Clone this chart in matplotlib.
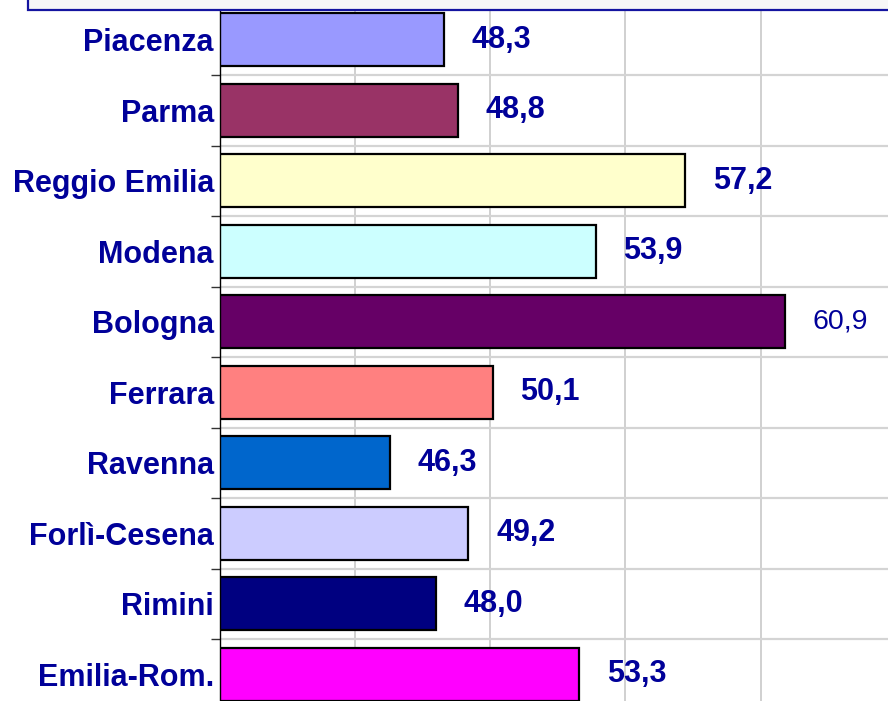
import matplotlib
matplotlib.use("Agg")
import matplotlib.pyplot as plt
from matplotlib.patches import Rectangle
import numpy as np

categories = ["Piacenza", "Parma", "Reggio Emilia", "Modena", "Bologna",
              "Ferrara", "Ravenna", "Forlì-Cesena", "Rimini", "Emilia-Rom."]
values = [48.3, 48.8, 57.2, 53.9, 60.9, 50.1, 46.3, 49.2, 48.0, 53.3]
colors = ["#9999FF", "#993366", "#FFFFCC", "#CCFFFF", "#660066",
          "#FF8080", "#0066CC", "#CCCCFF", "#000080", "#FF00FF"]
bold_labels = [True, True, True, True, False, True, True, True, True, True]

plt.rcParams['font.family'] = ['Liberation Sans', 'DejaVu Sans']
text_color = "#000099"

W, H = 888, 701
fig = plt.figure(figsize=(W / 100, H / 100), dpi=100)
ax = fig.add_axes([219.5 / W, (H - 709.5) / H, (W - 219.5) / W, 705 / H])

y = np.arange(len(categories))
ax.barh(y, values, left=0, height=0.75, color=colors, edgecolor="black",
        linewidth=1.6, zorder=3)
ax.set_xlim(40, 40 + (W - 219.5) / 27.06)
ax.set_ylim(len(categories) - 0.5, -0.5)

# gridlines
ax.set_xticks([45, 50, 55, 60])
ax.set_yticks(y)
ax.set_yticks(np.arange(len(categories) + 1) - 0.5, minor=True)
ax.grid(axis="x", which="major", color="#c8c8c8", linewidth=1.2, zorder=0)
ax.grid(axis="y", which="minor", color="#d4d4d4", linewidth=1.6, zorder=0)
ax.set_axisbelow(True)

ax.tick_params(axis="x", which="both", length=0, labelbottom=False)
ax.tick_params(axis="y", which="major", length=0, pad=4)
ax.tick_params(axis="y", which="minor", length=6.5, width=1, direction="out",
               color="#333333")
ax.set_yticklabels(categories, fontsize=22, fontweight="bold", color=text_color)

for s in ["top", "right", "bottom"]:
    ax.spines[s].set_visible(False)
ax.spines["left"].set_linewidth(1.0)
ax.spines["left"].set_zorder(4)

for yi, v, b in zip(y, values, bold_labels):
    txt = f"{v:.1f}".replace(".", ",")
    ax.annotate(txt, xy=(v, yi), xytext=(20, 0), textcoords="offset points",
                ha="left", va="center", color=text_color,
                fontsize=22 if b else 20.5,
                fontweight="bold" if b else "normal", zorder=5)

# top box (title frame, mostly cropped)
box = Rectangle((28 / W, (H - 9.5) / H), 2.0, 1.0, transform=fig.transFigure,
                facecolor="#f7f7f7", edgecolor="#1414a0", linewidth=1.6,
                zorder=10, clip_on=False)
fig.add_artist(box)

fig.savefig("out.png", dpi=100)
